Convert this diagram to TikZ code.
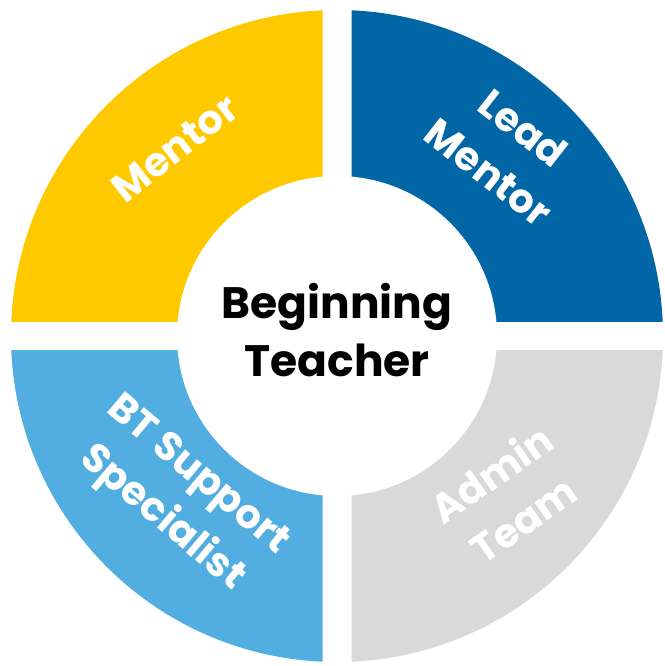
\documentclass[tikz,border=0pt]{standalone}
\usepackage{fontspec}
\setmainfont{Poppins}
\definecolor{cyellow}{RGB}{255,201,0}
\definecolor{cblue}{RGB}{0,102,166}
\definecolor{clight}{RGB}{82,174,224}
\definecolor{cgray}{RGB}{217,217,217}
\tikzset{
  seglabel/.style={text=white, align=center, font=\bfseries\fontsize{40}{56}\selectfont, inner sep=0pt},
  centerlabel/.style={text=black, align=center, font=\bfseries\fontsize{44}{58}\selectfont, inner sep=0pt}
}
\begin{document}
\begin{tikzpicture}[x=1pt,y=1pt]
\fill[white] (0,0) rectangle (664,666);
\useasboundingbox (0,0) rectangle (664,666);
\coordinate (c) at (337,330);
\def\R{326}\def\g{14.5}\def\r{160}
\begin{scope}\clip (337+\g,330+\g) rectangle (664,666); \fill[cblue] (c) circle (\R); \end{scope}
\begin{scope}\clip (337-\g,330+\g) rectangle (0,666); \fill[cyellow] (c) circle (\R); \end{scope}
\begin{scope}\clip (337-\g,330-\g) rectangle (0,0); \fill[clight] (c) circle (\R); \end{scope}
\begin{scope}\clip (337+\g,330-\g) rectangle (664,0); \fill[cgray] (c) circle (\R); \end{scope}
\fill[white] (c) circle (\r);
\node[centerlabel] (bt) at (337,336) {Beginning\\Teacher};
\node[seglabel, rotate=38] (mentor) at (175,518) {Mentor};
\node[seglabel, rotate=-38] (lead) at (506,516) {Lead\\Mentor};
\node[seglabel, rotate=-40] (support) at (179,168) {BT Support\\Specialist};
\node[seglabel, rotate=35] (admin) at (507,170) {Admin\\Team};
\end{tikzpicture}
\end{document}
